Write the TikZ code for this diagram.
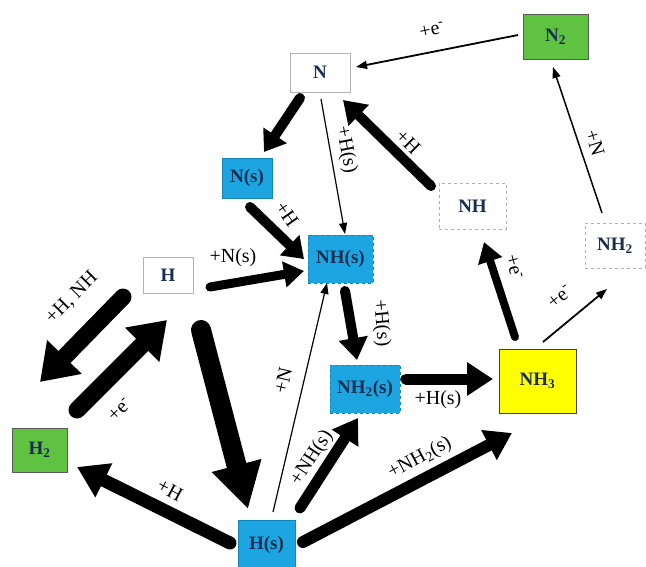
\documentclass[tikz,border=0pt]{standalone}
\usepackage{fontspec}
\setmainfont{Liberation Serif}
\usetikzlibrary{arrows.meta}
\definecolor{sblue}{RGB}{28,165,225}
\definecolor{sgreen}{RGB}{95,195,65}
\definecolor{syellow}{RGB}{255,255,0}
\definecolor{stext}{RGB}{25,45,80}
\begin{document}
\begin{tikzpicture}[x=1pt,y=-1pt,
 nd/.style={inner sep=0pt, font=\fontsize{19}{20}\selectfont\bfseries, text=stext},
 wbox/.style={nd, draw=gray!60, line width=1pt, fill=white},
 dbox/.style={nd, draw=gray!60, line width=1pt, dashed},
 bbox/.style={nd, fill=sblue, draw=sblue!80!black, line width=0.8pt},
 gbox/.style={nd, fill=sgreen, draw=gray!70!black, line width=0.8pt},
 lab/.style={font=\fontsize{20}{22}\selectfont, inner sep=0pt},
 tarr/.style={line width=#1, -{Triangle[length=11pt,width=8pt]}},
 fat/.style n args={3}{line width=#1, line cap=round, -{Triangle[length=#2,width=#3]}}
]
\useasboundingbox (0,0) rectangle (646,566);
\fill[white] (0,0) rectangle (646,566);
% nodes
\node[wbox, minimum width=60pt, minimum height=39pt] (N) at (320,72.5) {N};
\node[gbox, minimum width=65pt, minimum height=45pt] (N2) at (555.5,36.5) {N\textsubscript{2}};
\node[bbox, minimum width=50pt, minimum height=40pt] (Ns) at (247,178) {N(s)};
\node[bbox, dashed, minimum width=65pt, minimum height=48pt] (NHs) at (340.5,259) {NH(s)};
\node[dbox, minimum width=67pt, minimum height=46pt] (NH) at (472.5,206) {NH};
\node[dbox, minimum width=60pt, minimum height=45pt] (NH2) at (615,245.5) {NH\textsubscript{2}};
\node[wbox, minimum width=50pt, minimum height=36pt] (H) at (168,275) {H};
\node[gbox, minimum width=55pt, minimum height=44pt] (H2) at (39.5,450) {H\textsubscript{2}};
\node[bbox, dashed, minimum width=70pt, minimum height=48pt] (NH2s) at (365,389) {NH\textsubscript{2}(s)};
\node[nd, fill=syellow, draw=gray!50!black, line width=0.8pt, minimum width=77pt, minimum height=64pt] (NH3) at (537.5,381) {NH\textsubscript{3}};
\node[bbox, minimum width=57pt, minimum height=50pt] (Hs) at (266.5,545) {H(s)};
% connectors
\draw[tarr=1.8pt] ([shift={(-37.5,-1.5)}]N2.center) -- ([shift={(36,-5.5)}]N.center);
\draw[fat={10pt}{20pt}{27pt}] ([shift={(-20,25.5)}]N.center) -- ([shift={(17,-26)}]Ns.center);
\draw[tarr=1.2pt] ([shift={(1,26.5)}]N.center) -- ([shift={(4.5,-25)}]NHs.center);
\draw[fat={10pt}{22pt}{28pt}] ([shift={(-41.5,-20)}]NH.center) -- ([shift={(23,27.5)}]N.center);
\draw[fat={10pt}{20pt}{27pt}] ([shift={(3,29)}]Ns.center) -- ([shift={(-36.5,0)}]NHs.center);
\draw[fat={9pt}{20pt}{25pt}] ([shift={(42,12)}]H.center) -- ([shift={(-36.5,12)}]NHs.center);
\draw[fat={10pt}{22pt}{28pt}] ([shift={(4.5,32)}]NHs.center) -- ([shift={(-8,-29)}]NH2s.center);
\draw[fat={11pt}{26pt}{32pt}] ([shift={(41,-10)}]NH2s.center) -- ([shift={(-44.5,-2)}]NH3.center);
\draw[fat={8pt}{20pt}{24pt}] ([shift={(-22.5,-44)}]NH3.center) -- ([shift={(11.5,36)}]NH.center);
\draw[tarr=1.8pt] ([shift={(5.5,-39)}]NH3.center) -- ([shift={(-8,43.5)}]NH2.center);
\draw[tarr=1.5pt] ([shift={(-13,-32.5)}]NH2.center) -- ([shift={(-2.5,30.5)}]N2.center);
\draw[fat={17pt}{35pt}{46pt}] ([shift={(-45,22)}]H.center) -- ([shift={(0.5,-68)}]H2.center);
\draw[fat={17pt}{35pt}{46pt}] ([shift={(37.5,-40)}]H2.center) -- ([shift={(-1,45)}]H.center);
\draw[fat={20pt}{45pt}{48pt}] ([shift={(33,55)}]H.center) -- ([shift={(-18.5,-36)}]Hs.center);
\draw[fat={13pt}{30pt}{36pt}] ([shift={(-36.5,-2)}]Hs.center) -- ([shift={(37.5,17)}]H2.center);
\draw[tarr=1.2pt] ([shift={(6.5,-33)}]Hs.center) -- ([shift={(-13.5,24)}]NHs.center);
\draw[fat={11pt}{24pt}{30pt}] ([shift={(33.5,-37)}]Hs.center) -- ([shift={(-7,29)}]NH2s.center);
\draw[fat={12pt}{26pt}{32pt}] ([shift={(36.5,-3)}]Hs.center) -- ([shift={(-25.5,52)}]NH3.center);
% labels
\node[lab, rotate=12] (la) at (432,30) {+e\textsuperscript{-}};
\node[lab, rotate=-79] (lc) at (346,150) {+H(s)};
\node[lab, rotate=-45] (ld) at (408,142) {+H};
\node[lab, rotate=-55] (le) at (287,214) {+H};
\node[lab] (lf) at (233,258) {+N(s)};
\node[lab, rotate=-85] (lg) at (381,323) {+H(s)};
\node[lab] (lh) at (438,400) {+H(s)};
\node[lab, rotate=-75] (li) at (514,267) {+e\textsuperscript{-}};
\node[lab, rotate=39] (lj) at (560,297) {+e\textsuperscript{-}};
\node[lab, rotate=-73] (lk) at (595,143) {+N};
\node[lab, rotate=45] (ll) at (72,298) {+H, NH};
\node[lab, rotate=45] (lm) at (120,410) {+e\textsuperscript{-}};
\node[lab, rotate=-28] (lo) at (170,490) {+H};
\node[lab, rotate=77] (lp) at (283,380) {+N};
\node[lab, rotate=57] (lq) at (312,458) {+NH(s)};
\node[lab, rotate=28] (lr) at (420,458) {+NH\textsubscript{2}(s)};
\end{tikzpicture}
\end{document}
